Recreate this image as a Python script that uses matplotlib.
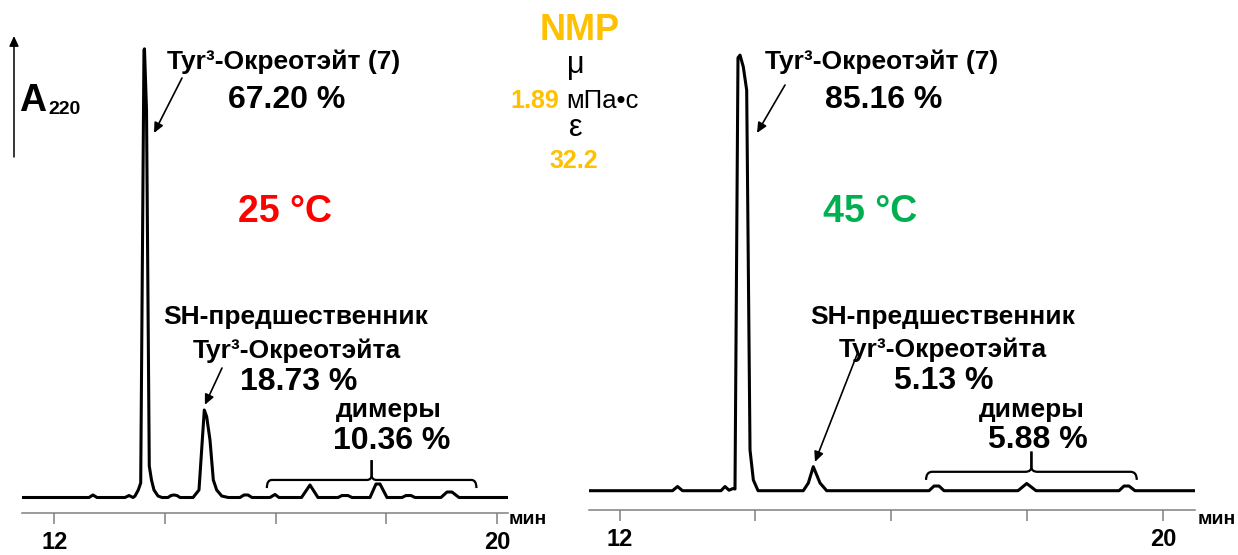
import numpy as np
import matplotlib
matplotlib.use('Agg')
import matplotlib.pyplot as plt
from matplotlib.path import Path
from matplotlib.patches import PathPatch, FancyArrowPatch

W, H = 1238, 555
FONTE = 'Liberation Sans'
LARANJA = '#FFC000'
CINZA_EIXO = '#808080'

# cromatograma a 25 °C (tempo em min, sinal A220 em unidades relativas)
T_25 = [11.407, 12.624, 12.696, 12.769, 13.275, 13.347, 13.42, 13.456, 13.515, 13.559,
        13.618, 13.627, 13.664, 13.714, 13.754, 13.799, 13.872, 13.944,
        14.052, 14.107, 14.161, 14.215, 14.269,
        14.505, 14.613, 14.709, 14.752, 14.812, 14.872, 14.933, 15.024, 15.143,
        15.354, 15.427, 15.499, 15.571, 15.897, 15.987, 16.06,
        16.467, 16.62, 16.765, 17.127, 17.199, 17.307, 17.38,
        17.705, 17.814, 17.886, 18.013, 18.284, 18.356, 18.447, 18.519,
        18.989, 19.098, 19.188, 19.315, 20.201]
A_25 = [0, 0, 0.56, 0, 0, 0.44, 0, 0.33, 1.67, 3.22,
        99.4, 99.7, 86.1, 7.0, 3.89, 1.67, 0.33, 0,
        0, 0.44, 0.56, 0.44, 0,
        0, 1.67, 19.44, 17.96, 12.78, 3.89, 1.67, 0.33, 0,
        0, 0.56, 0.56, 0, 0, 0.67, 0,
        0, 2.78, 0, 0, 0.44, 0.44, 0,
        0, 3.0, 3.0, 0, 0, 0.44, 0.44, 0,
        0, 1.22, 1.22, 0, 0]

# cromatograma a 45 °C
T_45 = [11.551, 12.78, 12.853, 12.927, 13.493, 13.552, 13.611, 13.67, 13.699,
        13.743, 13.773, 13.821, 13.871, 13.92, 13.969, 14.038,
        14.704, 14.778, 14.851, 14.95, 15.048,
        16.554, 16.627, 16.701, 16.774, 17.863, 17.991, 18.128,
        19.349, 19.422, 19.496, 19.584, 20.467]
A_45 = [0, 0, 0.93, 0, 0, 0.93, 0.11, 0.49, 0.38,
        96.2, 96.8, 94.2, 89.0, 9.04, 2.38, 0,
        0, 1.71, 5.33, 1.71, 0,
        0, 1.04, 1.04, 0, 0, 1.6, 0,
        0, 1.04, 1.04, 0, 0]

TICKS_MIN = [12, 14, 16, 18, 20]
TICK_LABELS = ['12', '', '', '', '20']

# faixa dos dimeros (min) e pontas das setas (min, sinal)
DIMEROS_25 = (15.84, 19.63)
DIMEROS_45 = (16.51, 19.61)
SETA_PRINCIPAL_25 = (13.80, 81.0)
SETA_SH_25 = (14.72, 20.6)
SETA_PRINCIPAL_45 = (14.023, 79.5)
SETA_SH_45 = (14.876, 6.4)

PX_POR_UNIDADE = 4.5
LARGURA_TRACO = 2.2
TAM_ROTULO = 19
TAM_PCT = 23


def fpx(x, y):
    # pixel (origem no topo) -> fracao da figura
    return x / W, 1 - y / H


def texto(fig, x, y, s, size, color='black', weight='bold', ha='center', va='center'):
    fx, fy = fpx(x, y)
    fig.text(fx, fy, s, fontsize=size, color=color, fontweight=weight,
             ha=ha, va=va, family=FONTE)


def seta(fig, ax, ponta, x_txt, y_txt):
    ax.annotate('', xy=ponta, xycoords='data',
                xytext=(x_txt, H - y_txt), textcoords='figure pixels',
                arrowprops=dict(arrowstyle='-|>,head_length=0.6,head_width=0.28',
                                color='black', lw=1.2, shrinkA=0, shrinkB=0))


def chave(ax, x0, x1, y_ponta, y_barra, y_topo):
    xc = (x0 + x1) / 2
    rx = 0.09
    dy = (y_topo - y_barra) * 0.25
    for xa, sinal in [(x0, 1), (x1, -1)]:
        verts = [(xa, y_ponta), (xa, y_barra), (xa + sinal * rx, y_barra),
                 (xc - sinal * rx, y_barra), (xc, y_barra), (xc, y_barra + dy),
                 (xc, y_topo)]
        codes = [Path.MOVETO, Path.CURVE3, Path.CURVE3, Path.LINETO,
                 Path.CURVE3, Path.CURVE3, Path.LINETO]
        ax.add_patch(PathPatch(Path(verts, codes), fill=False, lw=1.6,
                               edgecolor='black', capstyle='butt'))


def painel(fig, tempos, sinal, x0_px, x1_px, base_px, eixo_px):
    ax = fig.add_axes([x0_px / W, 0, (x1_px - x0_px) / W, 1])
    ax.set_xlim(tempos[0], tempos[-1])
    ax.set_ylim(-(H - base_px) / PX_POR_UNIDADE, base_px / PX_POR_UNIDADE)
    ax.plot(tempos, sinal, color='black', lw=LARGURA_TRACO,
            solid_joinstyle='round', solid_capstyle='butt')
    for s in ['top', 'left', 'right']:
        ax.spines[s].set_visible(False)
    ax.spines['bottom'].set_position(('data', -(eixo_px - base_px) / PX_POR_UNIDADE))
    ax.spines['bottom'].set_color(CINZA_EIXO)
    ax.spines['bottom'].set_linewidth(1.1)
    ax.set_yticks([])
    ax.set_xticks(TICKS_MIN)
    ax.set_xticklabels(TICK_LABELS)
    ax.tick_params(axis='x', direction='out', length=8, width=1.1, color=CINZA_EIXO,
                   pad=5, labelsize=17)
    for lbl in ax.get_xticklabels():
        lbl.set_fontweight('bold')
        lbl.set_family(FONTE)
    ax.patch.set_alpha(0)
    return ax


fig = plt.figure(figsize=(W / 100, H / 100), dpi=100)

ax1 = painel(fig, T_25, A_25, 21.7, 508, 497.5, 512.7)
ax2 = painel(fig, T_45, A_45, 589, 1195, 490.7, 509.5)

chave(ax1, DIMEROS_25[0], DIMEROS_25[1], 2.1, 3.9, 8.3)
chave(ax2, DIMEROS_45[0], DIMEROS_45[1], 2.4, 4.2, 8.7)

# eixo A220
fig.add_artist(FancyArrowPatch(
    (14, H - 157), (14, H - 36), transform=None,
    arrowstyle='-|>,head_length=0.6,head_width=0.28', mutation_scale=10,
    color='black', lw=1.1, shrinkA=0, shrinkB=0))
texto(fig, 19, 101, 'A', 27, ha='left')
texto(fig, 48, 109, '220', 14, ha='left')

# anotacoes 25 °C
texto(fig, 284, 62, 'Tyr³-Окреотэйт (7)', TAM_ROTULO)
texto(fig, 287, 100, '67.20 %', TAM_PCT)
texto(fig, 285, 212, '25 °C', 27, color='#FF0000')
texto(fig, 296, 317, 'SH-предшественник', TAM_ROTULO)
texto(fig, 297, 351, 'Tyr³-Окреотэйта', TAM_ROTULO)
texto(fig, 299, 382, '18.73 %', TAM_PCT)
texto(fig, 389, 410, 'димеры', TAM_ROTULO)
texto(fig, 392, 441, '10.36 %', TAM_PCT)
texto(fig, 528, 520, 'мин', 14)
seta(fig, ax1, SETA_PRINCIPAL_25, 182, 78)
seta(fig, ax1, SETA_SH_25, 222, 368)

# anotacoes 45 °C
texto(fig, 882, 62, 'Tyr³-Окреотэйт (7)', TAM_ROTULO)
texto(fig, 884, 100, '85.16 %', TAM_PCT)
texto(fig, 870, 212, '45 °C', 27, color='#00B050')
texto(fig, 943, 317, 'SH-предшественник', TAM_ROTULO)
texto(fig, 943, 350, 'Tyr³-Окреотэйта', TAM_ROTULO)
texto(fig, 944, 381, '5.13 %', TAM_PCT)
texto(fig, 1032, 410, 'димеры', TAM_ROTULO)
texto(fig, 1038, 440, '5.88 %', TAM_PCT)
texto(fig, 1217, 520, 'мин', 14)
seta(fig, ax2, SETA_PRINCIPAL_45, 785, 85)
seta(fig, ax2, SETA_SH_45, 858, 352)

# solvente
texto(fig, 580, 30, 'NMP', 26, color=LARANJA)
texto(fig, 576, 65, 'μ', 22, weight='normal')
texto(fig, 559, 101, '1.89', 18, color=LARANJA, ha='right')
texto(fig, 566, 101, 'мПа•с', 18.5, weight='normal', ha='left')
texto(fig, 576, 128, 'ε', 22, weight='normal')
texto(fig, 574, 161, '32.2', 18, color=LARANJA)

fig.savefig('out.png', dpi=100)
